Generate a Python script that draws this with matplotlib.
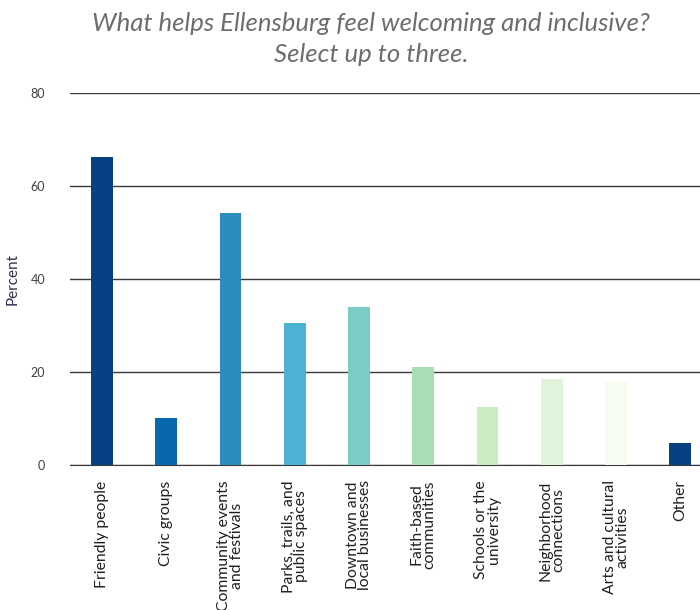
import numpy as np
import matplotlib.pyplot as plt

plt.rcParams['font.family'] = ['Lato', 'DejaVu Sans']

categories = ["Friendly people", "Civic groups", "Community events\nand festivals",
              "Parks, trails, and\npublic spaces", "Downtown and\nlocal businesses",
              "Faith-based\ncommunities", "Schools or the\nuniversity",
              "Neighborhood\nconnections", "Arts and cultural\nactivities", "Other"]
percent = [66.2, 10.1, 54.2, 30.5, 34.0, 21.1, 12.5, 18.5, 17.8, 4.7]
colours = ["#084081", "#0868ac", "#2b8cbe", "#4eb3d3", "#7bccc4",
           "#a8ddb5", "#ccebc5", "#e0f3db", "#f7fcf0", "#084081"]
yticks = [0, 20, 40, 60, 80]

fig = plt.figure(figsize=(7, 6.1), dpi=100)
ax = fig.add_axes([0.1, 0.2377, 0.9, 0.61])

x = np.arange(len(categories))
ax.bar(x, percent, width=0.34, color=colours, zorder=3)

ax.set_ylim(0, 80)
ax.set_xlim(-0.5, 9.31)
ax.set_yticks(yticks)
ax.yaxis.grid(True, color="#3a3a3a", linewidth=1, zorder=0)
ax.tick_params(axis='y', length=0, pad=18, labelsize=9, labelcolor="#404040")
ax.set_xticks(x)
ax.set_xticklabels(categories, rotation=90, fontsize=11.3, color="#202020",
                   linespacing=0.88, va='top', ha='center')
ax.tick_params(axis='x', length=0, pad=11)

for side in ['top', 'right', 'left']:
    ax.spines[side].set_visible(False)
ax.spines['bottom'].set_color("#3a3a3a")

ax.set_ylabel("Percent", fontsize=11, color="#303050", labelpad=8)

fig.text(0.53, 0.962, "What helps Ellensburg feel welcoming and inclusive?",
         ha='center', va='center', fontsize=18.5, style='italic', color="#6d6d6d")
fig.text(0.53, 0.911, "Select up to three.",
         ha='center', va='center', fontsize=18.5, style='italic', color="#6d6d6d")

fig.savefig("out.png", dpi=100)
